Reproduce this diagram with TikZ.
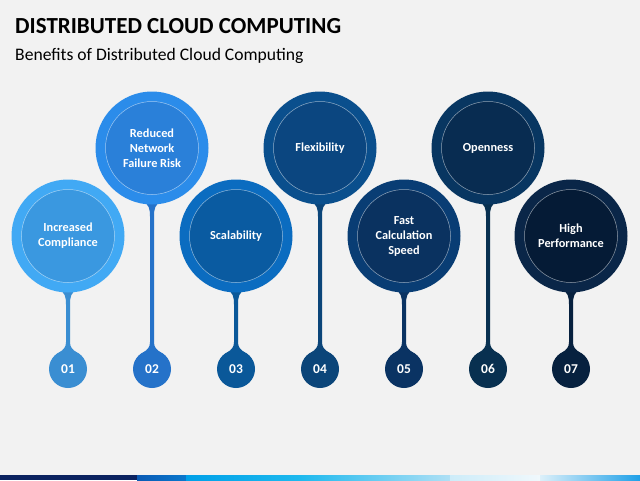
\documentclass[tikz,border=0pt]{standalone}
\usepackage{fontspec}
\setmainfont{Carlito}
\usetikzlibrary{calc}
\definecolor{bg}{HTML}{F2F2F2}
\definecolor{navyS}{HTML}{0B2260}
\definecolor{oA}{HTML}{41A9F4}\definecolor{iA}{HTML}{3A98E0}\definecolor{sA}{HTML}{3A8ED2}
\definecolor{oB}{HTML}{2B8CEA}\definecolor{iB}{HTML}{2A80D9}\definecolor{sB}{HTML}{2572C9}
\definecolor{oC}{HTML}{0B6CC0}\definecolor{iC}{HTML}{0A5BA1}\definecolor{sC}{HTML}{0A5899}
\definecolor{oD}{HTML}{0A4F8D}\definecolor{iD}{HTML}{0B4680}\definecolor{sD}{HTML}{0B4579}
\definecolor{oE}{HTML}{093D74}\definecolor{iE}{HTML}{0A3260}\definecolor{sE}{HTML}{0A3363}
\definecolor{oF}{HTML}{083661}\definecolor{iF}{HTML}{082C51}\definecolor{sF}{HTML}{083050}
\definecolor{oG}{HTML}{0A2648}\definecolor{iG}{HTML}{051B36}\definecolor{sG}{HTML}{07213F}
\tikzset{
  outerc/.style={circle,minimum size=113pt,inner sep=0pt},
  innerc/.style={circle,minimum size=93pt,inner sep=0pt,draw=white,draw opacity=0.55,line width=0.5pt,
    text=white,font=\bfseries\fontsize{12.3}{15}\selectfont,align=center},
  numc/.style={circle,minimum size=38pt,inner sep=0pt,text=white,font=\bfseries\fontsize{13.5}{15}\selectfont},
}
\begin{document}
\begin{tikzpicture}[x=1pt,y=-1pt]
\useasboundingbox (0,0) rectangle (640,480);
\fill[bg] (0,0) rectangle (640,480);
\node[anchor=base west,font=\bfseries\fontsize{23}{25}\selectfont,inner sep=0pt] (title) at (15,33) {DISTRIBUTED CLOUD COMPUTING};
\node[anchor=base west,font=\fontsize{17.6}{19}\selectfont,inner sep=0pt] (sub) at (15,60) {Benefits of Distributed Cloud Computing};
\foreach \i/\x/\y/\o/\n/\s/\t in {
  1/68/236/oA/iA/sA/{Increased\\Compliance},
  2/152/148/oB/iB/sB/{Reduced\\Network\\Failure Risk},
  3/236/236/oC/iC/sC/{Scalability},
  4/320/148/oD/iD/sD/{Flexibility},
  5/404/236/oE/iE/sE/{Fast\\Calculation\\Speed},
  6/488/148/oF/iF/sF/{Openness},
  7/571/236/oG/iG/sG/{High\\Performance}}{
  \coordinate (ctop\i) at (\x,\y);
  \coordinate (cbot\i) at (\x,\y+56.5);
  \coordinate (ntop\i) at (\x,350);
  \fill[\s] ($(cbot\i)+(-10,-4)$) .. controls ($(cbot\i)+(-3,0)$) and ($(cbot\i)+(-2,4)$) .. ($(cbot\i)+(-2,12)$)
     -- ($(ntop\i)+(-2,-8)$) .. controls ($(ntop\i)+(-2,-3)$) and ($(ntop\i)+(-4,-1)$) .. ($(ntop\i)+(-9,3)$)
     -- ($(ntop\i)+(9,3)$) .. controls ($(ntop\i)+(4,-1)$) and ($(ntop\i)+(2,-3)$) .. ($(ntop\i)+(2,-8)$)
     -- ($(cbot\i)+(2,12)$) .. controls ($(cbot\i)+(2,4)$) and ($(cbot\i)+(3,0)$) .. ($(cbot\i)+(10,-4)$) -- cycle;
  \node[outerc,fill=\o] (c\i) at (\x,\y) {};
  \node[innerc,fill=\n] (in\i) at (c\i.center) {\t};
  \node[numc,fill=\s] (n\i) at (\x,369) {0\i};
}
% bottom strip
\fill[navyS] (0,475) rectangle (137,480);
\shade[left color={rgb,255:red,10;green,90;blue,180},right color={rgb,255:red,10;green,120;blue,205}] (137,475) rectangle (186,480);
\shade[left color={rgb,255:red,0;green,160;blue,232},right color={rgb,255:red,30;green,185;blue,238}] (186,475) rectangle (300,480);
\shade[left color={rgb,255:red,30;green,185;blue,238},right color={rgb,255:red,175;green,224;blue,245}] (300,475) rectangle (450,480);
\shade[left color={rgb,255:red,205;green,236;blue,249},right color={rgb,255:red,240;green,248;blue,252}] (450,475) rectangle (540,480);
\shade[left color={rgb,255:red,220;green,240;blue,250},right color={rgb,255:red,30;green,160;blue,232}] (540,475) rectangle (640,480);
\end{tikzpicture}
\end{document}
